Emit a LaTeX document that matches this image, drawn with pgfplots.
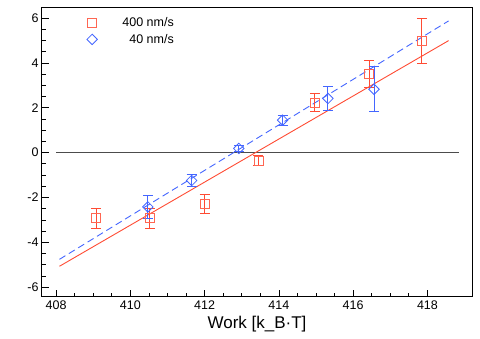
\documentclass[border=0pt]{standalone}
\usepackage{pgfplots}
\pgfplotsset{compat=1.18}
\usepackage{fontspec}
\setmainfont{Liberation Sans}
\definecolor{fitred}{HTML}{FF4B33}
\definecolor{fitblue}{HTML}{4466FF}

% x  y  error
\pgfplotstableread{
x       y      e
409.08  -2.92  0.45
410.52  -2.92  0.45
412.00  -2.28  0.43
413.45  -0.36  0.23
414.97   2.24  0.40
416.43   3.53  0.60
417.85   4.98  1.00
}\fastdata
\pgfplotstableread{
x       y      e
410.47  -2.42  0.50
411.65  -1.24  0.25
412.92   0.19  0.12
414.10   1.45  0.22
415.32   2.42  0.52
416.56   2.83  1.00
}\slowdata

\begin{document}
\begin{tikzpicture}
\begin{axis}[
  width=430pt, height=290pt, scale only axis,
  xmin=407.62, xmax=419.2, ymin=-6.44, ymax=6.5,
  xtick={408,410,...,418}, ytick={-6,-4,...,6},
  minor x tick num=3, minor y tick num=3,
  tick align=inside, xtick pos=left, ytick pos=left,
  major tick length=7pt, minor tick length=3.5pt,
  axis line style={line width=1pt},
  tick style={line width=0.8pt, black},
  /pgf/number format/assume math mode=true,
  ticklabel style={font=\fontsize{12.5}{14}\selectfont},
  xlabel={Work [k\_B·T]},
  xlabel style={font=\fontsize{17}{20}\selectfont},
  legend style={draw=none, fill=none, at={(0.097,0.978)}, anchor=north west,
    font=\fontsize{12.5}{15}\selectfont, row sep=2pt, column sep=23pt},
  legend cell align=right,
]
% zero line and fits
\addplot[forget plot, black!70, line width=0.7pt] coordinates {(408,0) (418.86,0)};
\addplot[forget plot, fitred, line width=0.9pt] coordinates {(408.09,-5.07) (418.57,5.0)};
\addplot[forget plot, fitblue, line width=0.9pt, dash pattern=on 7pt off 4pt]
  coordinates {(408.09,-4.76) (418.57,5.88)};
% data
\addplot[fitred, only marks, mark=square, mark size=4.5pt,
  mark options={line width=0.8pt, fill=white, fitred!85},
  error bars/.cd, y dir=both, y explicit,
  error bar style={line width=0.9pt, fitred},
  error mark options={rotate=90, mark size=5pt, line width=0.9pt, fitred}]
  table[x=x, y=y, y error=e] {\fastdata};
\addplot[fitblue, only marks, mark=square, mark size=3.7pt,
  mark options={rotate=45, line width=0.8pt, fill=white, fitblue},
  error bars/.cd, y dir=both, y explicit,
  error bar style={line width=0.9pt, fitblue},
  error mark options={rotate=90, mark size=5pt, line width=0.9pt, fitblue}]
  table[x=x, y=y, y error=e] {\slowdata};
\legend{400 nm/s, 40 nm/s}
\end{axis}
\pgfresetboundingbox
\path (current axis.south west) ++(-42pt,-42pt) rectangle ++(480pt,339pt);
\end{tikzpicture}
\end{document}
